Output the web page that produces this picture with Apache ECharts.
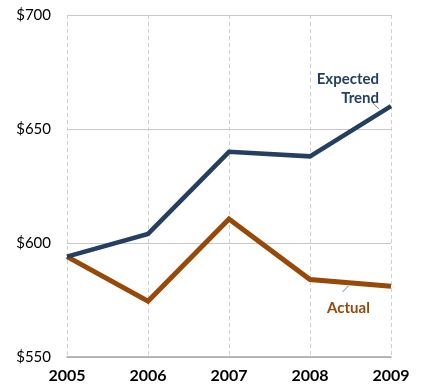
<!DOCTYPE html>
<html>
<head>
<meta charset="utf-8">
<script src="https://cdn.jsdelivr.net/npm/echarts@6/dist/echarts.min.js"></script>
<style>
  html, body { margin: 0; padding: 0; background: #fff; }
  #chart { width: 422px; height: 387px; }
</style>
</head>
<body>
<div id="chart"></div>
<script>
// Yearly values, in dollars
const years = ['2005', '2006', '2007', '2008', '2009'];
const expectedTrend = [594, 604, 640, 638, 660];
const actual = [594, 574.5, 610.5, 584, 581];
const yTicks = [550, 600, 650, 700];

const NAVY = '#243F60';
const RUST = '#984807';
const FONT = 'Lato, "Open Sans", sans-serif';

const chart = echarts.init(document.getElementById('chart'));

chart.setOption({
  animation: false,
  grid: { left: 67, right: 31, top: 15, bottom: 30, containLabel: false },
  xAxis: {
    type: 'category',
    data: years,
    boundaryGap: false,
    axisLine: { show: true, lineStyle: { color: '#a6a6a6', width: 1.5 } },
    axisTick: { show: false },
    axisLabel: {
      color: '#000', fontFamily: FONT, fontWeight: 'bold', fontSize: 16, margin: 11
    },
    splitLine: { show: true, lineStyle: { color: '#d0d0d0', type: [4, 3], width: 1 } }
  },
  yAxis: {
    type: 'value',
    min: yTicks[0],
    max: yTicks[yTicks.length - 1],
    interval: 50,
    axisLine: { show: false },
    axisTick: { show: false },
    axisLabel: {
      color: '#000', fontFamily: FONT, fontSize: 15, margin: 16,
      formatter: v => '$' + v
    },
    splitLine: { show: true, lineStyle: { color: '#c8c8c8', width: 1 } }
  },
  series: [
    {
      name: 'Expected Trend',
      type: 'line',
      data: expectedTrend,
      symbol: 'none',
      lineStyle: { color: NAVY, width: 4.5, join: 'miter' },
      z: 3
    },
    {
      name: 'Actual',
      type: 'line',
      data: actual,
      symbol: 'none',
      lineStyle: { color: RUST, width: 5, join: 'miter' },
      z: 2
    }
  ]
});

// Series labels with short leader lines, placed relative to the data points
function px(cat, val) {
  return chart.convertToPixel({ gridIndex: 0 }, [cat, val]);
}
const pE = px('2009', expectedTrend[4]);
const pA1 = px('2008', actual[3]);
const pA2 = px('2009', actual[4]);
const aMid = [(pA1[0] + pA2[0]) / 2, (pA1[1] + pA2[1]) / 2];

chart.setOption({
  graphic: [
    {
      type: 'text',
      style: {
        x: pE[0] - 12, y: pE[1] - 37, text: 'Expected\nTrend', fill: NAVY,
        font: 'bold 15px ' + FONT, align: 'right', verticalAlign: 'top', lineHeight: 19
      },
      z: 10
    },
    {
      type: 'line',
      shape: { x1: pE[0] - 19, y1: pE[1] - 4, x2: pE[0] - 12, y2: pE[1] + 3 },
      style: { stroke: '#7f7f7f', lineWidth: 1 },
      z: 1
    },
    {
      type: 'line',
      shape: { x1: aMid[0] - 2, y1: aMid[1] + 3, x2: aMid[0] - 8, y2: aMid[1] + 9 },
      style: { stroke: '#7f7f7f', lineWidth: 1 },
      z: 1
    },
    {
      type: 'text',
      style: {
        x: aMid[0] - 2, y: aMid[1] + 25, text: 'Actual', fill: RUST,
        font: 'bold 15px ' + FONT, align: 'center', verticalAlign: 'middle'
      },
      z: 10
    }
  ]
});
</script>
</body>
</html>
